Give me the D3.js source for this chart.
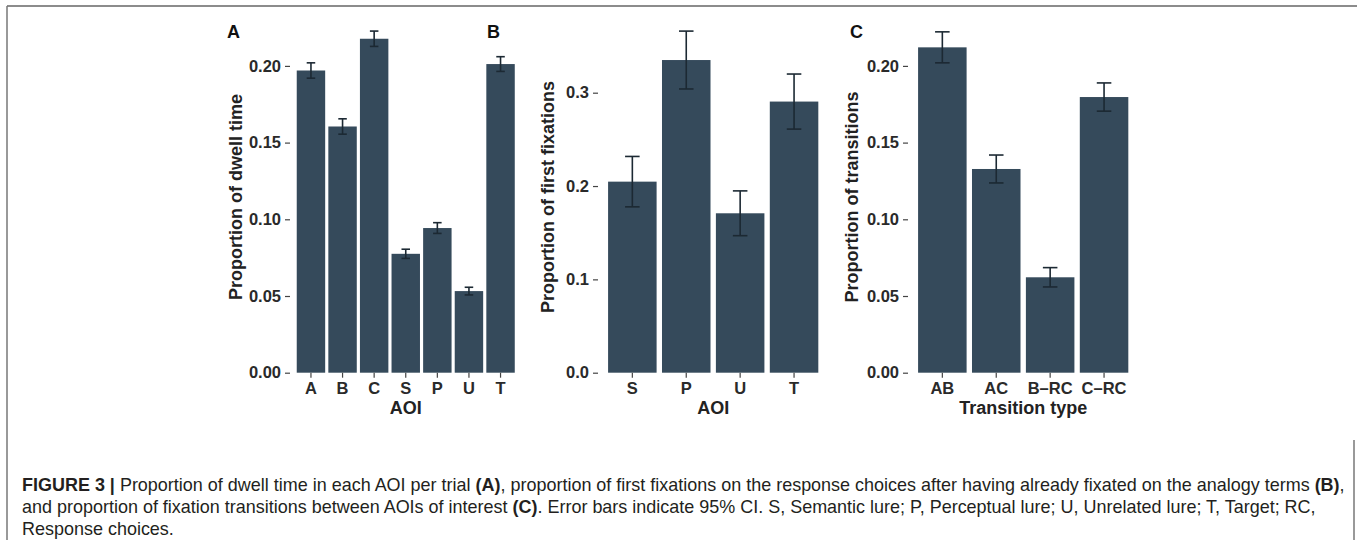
<!DOCTYPE html>
<html>
<head>
<meta charset="utf-8">
<script src="https://cdn.jsdelivr.net/npm/d3@7"></script>
<style>
  html, body { margin: 0; padding: 0; background: #fff; }
  svg { display: block; }
  .tick text { font-family: "Liberation Sans", Arial, sans-serif; font-weight: bold; font-size: 16.5px; fill: #2a2a2a; }
  .tick line { stroke: #444; stroke-width: 1.2; }
</style>
</head>
<body>
<div id="figure"></div>
<script>
// panel A: dwell time per AOI
var aoiCats = ['A', 'B', 'C', 'S', 'P', 'U', 'T'];
var dwellMean = [0.197, 0.1605, 0.2177, 0.0775, 0.0943, 0.0532, 0.2012];
var dwellCi = [0.005, 0.005, 0.005, 0.003, 0.0035, 0.0025, 0.0048];
var dwellTicks = [0, 0.05, 0.10, 0.15, 0.20];

// panel B: first fixations on response choices
var choiceCats = ['S', 'P', 'U', 'T'];
var firstMean = [0.2047, 0.335, 0.1708, 0.2905];
var firstCi = [0.027, 0.031, 0.024, 0.0295];
var firstTicks = [0, 0.1, 0.2, 0.3];

// panel C: transitions
var transCats = ['AB', 'AC', 'B\u2013RC', 'C\u2013RC'];
var transMean = [0.2121, 0.1328, 0.0622, 0.1797];
var transCi = [0.0101, 0.0091, 0.0063, 0.0092];
var transTicks = [0, 0.05, 0.10, 0.15, 0.20];

var W = 1357, H = 540;
var BAR = '#354a5b';
var ERR = '#1c2933';
var FONT = '"Liberation Sans", Arial, sans-serif';

var svg = d3.select('#figure').append('svg').attr('width', W).attr('height', H);

// frame lines
svg.append('line').attr('x1', 7).attr('x2', W).attr('y1', 6).attr('y2', 6)
  .attr('stroke', '#666').attr('stroke-width', 1.5);
svg.append('line').attr('x1', 7).attr('x2', 7).attr('y1', 6).attr('y2', H)
  .attr('stroke', '#777').attr('stroke-width', 1.5);
svg.append('line').attr('x1', 1354).attr('x2', 1354).attr('y1', 440).attr('y2', H)
  .attr('stroke', '#777').attr('stroke-width', 1.5);

var panels = [
  { letter: 'A', cats: aoiCats, mean: dwellMean, ci: dwellCi, ticks: dwellTicks, fmt: '.2f',
    left: 292, right: 519.5, top: 65.9, topVal: 0.20, letterX: 227, titleX: 242,
    ytitle: 'Proportion of dwell time', xtitle: 'AOI' },
  { letter: 'B', cats: choiceCats, mean: firstMean, ci: firstCi, ticks: firstTicks, fmt: '.1f',
    left: 600, right: 826.4, top: 92.7, topVal: 0.3, letterX: 487, titleX: 554,
    ytitle: 'Proportion of first fixations', xtitle: 'AOI' },
  { letter: 'C', cats: transCats, mean: transMean, ci: transCi, ticks: transTicks, fmt: '.2f',
    left: 910, right: 1136.4, top: 65.9, topVal: 0.20, letterX: 850, titleX: 858,
    ytitle: 'Proportion of transitions', xtitle: 'Transition type' }
];

var baseY = 372.7;

panels.forEach(function (p) {
  var g = svg.append('g');
  var x = d3.scaleBand().domain(p.cats).range([p.left, p.right])
    .paddingInner(0.1).paddingOuter(0.15);
  var y = d3.scaleLinear().domain([0, p.topVal]).range([baseY, p.top]);
  var rows = p.cats.map(function (c, i) { return { cat: c, v: p.mean[i], e: p.ci[i] }; });
  var capW = x.step() * 0.27;

  g.selectAll('rect.bar').data(rows).enter().append('rect')
    .attr('class', 'bar')
    .attr('x', function (d) { return x(d.cat); })
    .attr('y', function (d) { return y(d.v); })
    .attr('width', x.bandwidth())
    .attr('height', function (d) { return y(0) - y(d.v); })
    .attr('fill', BAR);

  // error bars
  var eb = g.selectAll('g.err').data(rows).enter().append('g').attr('class', 'err')
    .attr('stroke', ERR).attr('stroke-width', 1.6);
  eb.append('line')
    .attr('x1', function (d) { return x(d.cat) + x.bandwidth() / 2; })
    .attr('x2', function (d) { return x(d.cat) + x.bandwidth() / 2; })
    .attr('y1', function (d) { return y(d.v - d.e); })
    .attr('y2', function (d) { return y(d.v + d.e); });
  [1, -1].forEach(function (s) {
    eb.append('line')
      .attr('x1', function (d) { return x(d.cat) + x.bandwidth() / 2 - capW / 2; })
      .attr('x2', function (d) { return x(d.cat) + x.bandwidth() / 2 + capW / 2; })
      .attr('y1', function (d) { return y(d.v + s * d.e); })
      .attr('y2', function (d) { return y(d.v + s * d.e); });
  });

  // axes
  var ya = g.append('g').attr('transform', 'translate(' + (p.left - 2) + ',0)')
    .call(d3.axisLeft(y).tickValues(p.ticks).tickFormat(d3.format(p.fmt)).tickSize(5).tickPadding(4));
  ya.select('.domain').remove();
  var xa = g.append('g').attr('transform', 'translate(0,' + baseY + ')')
    .call(d3.axisBottom(x).tickSize(5).tickPadding(5));
  xa.select('.domain').remove();

  g.append('text').attr('x', p.letterX).attr('y', 38).text(p.letter)
    .attr('font-family', FONT).attr('font-weight', 'bold').attr('font-size', 18).attr('fill', '#111');
  g.append('text').attr('transform', 'translate(' + p.titleX + ',197) rotate(-90)')
    .attr('text-anchor', 'middle').text(p.ytitle)
    .attr('font-family', FONT).attr('font-weight', 'bold').attr('font-size', 18).attr('fill', '#222');
  g.append('text').attr('x', (p.left + p.right) / 2).attr('y', 414)
    .attr('text-anchor', 'middle').text(p.xtitle)
    .attr('font-family', FONT).attr('font-weight', 'bold').attr('font-size', 18).attr('fill', '#222');
});

// caption
var captionLines = [
  [['FIGURE 3 | ', true], ['Proportion of dwell time in each AOI per trial ', false], ['(A)', true],
   [', proportion of first fixations on the response choices after having already fixated on the analogy terms ', false],
   ['(B)', true], [',', false]],
  [['and proportion of fixation transitions between AOIs of interest ', false], ['(C)', true],
   ['. Error bars indicate 95% CI. S, Semantic lure; P, Perceptual lure; U, Unrelated lure; T, Target; RC,', false]],
  [['Response choices.', false]]
];
var capBase = [491, 513, 535];
var cap = svg.append('g');
var texts = captionLines.map(function (parts, i) {
  var t = cap.append('text').attr('x', 0).attr('y', capBase[i])
    .attr('font-family', FONT).attr('font-size', 17.5).attr('fill', '#231f20')
    .style('white-space', 'pre');
  parts.forEach(function (pt) {
    t.append('tspan').text(pt[0]).attr('font-weight', pt[1] ? 'bold' : 'normal');
  });
  return t;
});
var natural = texts[0].node().getComputedTextLength();
var sx = (1345 - 22) / natural;
cap.attr('transform', 'translate(22,0) scale(' + sx + ',1)');
</script>
</body>
</html>
